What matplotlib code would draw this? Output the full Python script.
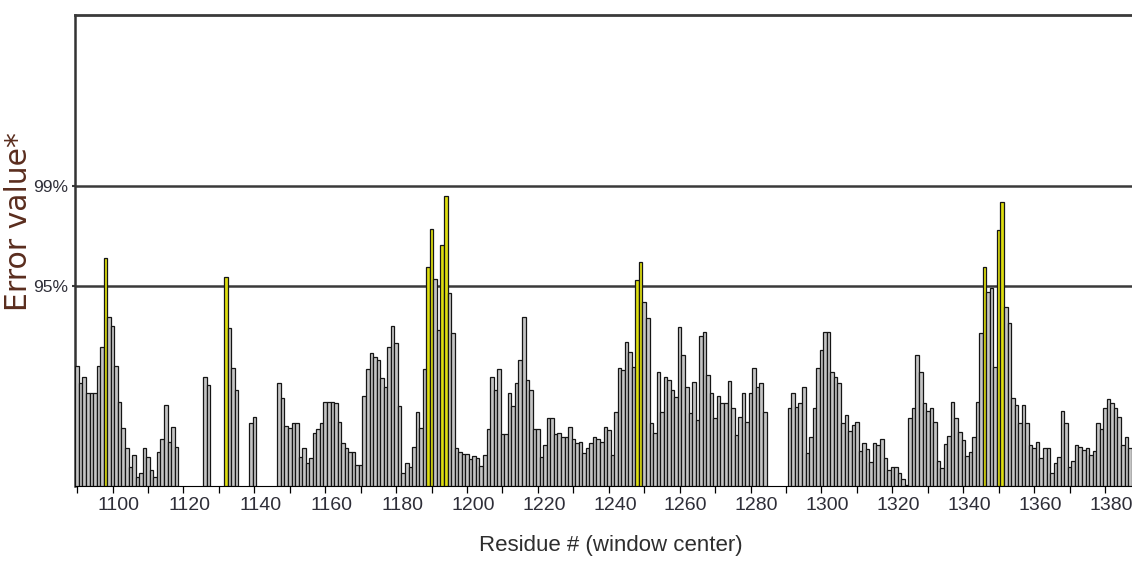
import numpy as np
import matplotlib
matplotlib.use("Agg")
import matplotlib.pyplot as plt
import matplotlib.transforms as mtransforms

# error value per residue (window center), None = no window
FIRST_RESIDUE = 1090
error_values = [
    120, 103, 109, 93, 93, 93, 120, 139, 228, 169,            # 1090
    160, 120, 84, 58, 38, 19, 31, 9, 13, 38,                  # 1100
    29, 16, 9, 34, 47, 81, 44, 59, 39, None,                  # 1110
    None, None, None, None, None, None, 109, 101, None, None,  # 1120
    None, None, 209, 158, 118, 96, None, None, None, 63,      # 1130
    69, None, None, None, None, None, None, 103, 88, 60,      # 1140
    58, 63, 63, 29, 38, 23, 28, 53, 57, 63,                   # 1150
    84, 84, 84, 83, 64, 43, 38, 34, 34, 21,                   # 1160
    21, 90, 117, 133, 129, 126, 108, 99, 139, 160,            # 1170
    143, 80, 13, 23, 19, 39, 74, 58, 117, 219,                # 1180
    257, 207, 156, 241, 290, 193, 153, 38, 34, 32,            # 1190
    32, 27, 30, 28, 20, 31, 57, 109, 96, 117,                 # 1200
    52, 52, 93, 80, 103, 126, 169, 106, 96, 57,               # 1210
    57, 29, 41, 68, 68, 52, 53, 49, 49, 59,                   # 1220
    47, 43, 44, 33, 38, 43, 49, 47, 44, 59,                   # 1230
    56, 31, 74, 118, 116, 144, 134, 119, 206, 224,            # 1240
    184, 168, 63, 53, 114, 74, 109, 106, 96, 89,              # 1250
    159, 131, 99, 73, 104, 66, 150, 154, 111, 93,             # 1260
    68, 90, 83, 83, 105, 78, 51, 69, 93, 64,                  # 1270
    93, 118, 99, 103, 74, None, None, None, None, None,       # 1280
    None, 78, 93, 79, 83, 99, 33, 49, 78, 118,                # 1290
    136, 154, 154, 114, 109, 103, 63, 71, 55, 61,             # 1300
    64, 35, 43, 37, 24, 43, 41, 47, 28, 16,                   # 1310
    19, 19, 13, 7, 1, 68, 78, 131, 114, 83,                   # 1320
    75, 78, 64, 25, 18, 42, 50, 84, 68, 54,                   # 1330
    46, 30, 34, 49, 84, 153, 219, 194, 198, 119,              # 1340
    256, 284, 179, 163, 88, 81, 63, 81, 63, 41,               # 1350
    38, 44, 28, 38, 38, 13, 23, 29, 75, 63,                   # 1360
    19, 25, 41, 39, 36, 38, 31, 35, 63, 57,                   # 1370
    78, 87, 83, 78, 69, 41, 49, 38,                           # 1380
]

highlight_residues = [1098, 1132, 1189, 1190, 1193, 1194, 1248, 1249, 1346, 1350, 1351]

threshold_labels = ["95%", "99%"]
threshold_values = [200, 300]

x_tick_labels = ["1100", "1120", "1140", "1160", "1180", "1200", "1220",
                 "1240", "1260", "1280", "1300", "1320", "1340", "1360", "1380"]

W, H = 1132, 569
plt.rcParams["font.family"] = ["Liberation Sans", "DejaVu Sans"]

residues = np.arange(FIRST_RESIDUE, FIRST_RESIDUE + len(error_values))
heights = np.array([np.nan if v is None else v for v in error_values], dtype=float)
present = ~np.isnan(heights)
colors = ["#dede10" if r in highlight_residues else "#c4c4c4" for r in residues[present]]

fig = plt.figure(figsize=(W / 100, H / 100), dpi=100)
ax = fig.add_axes([75 / W, (H - 486) / H, (W - 75) / W, (486 - 15) / H])

for t in threshold_values:
    ax.axhline(t, color="#3a3a3a", lw=1.8, zorder=2)

ax.bar(residues[present], heights[present], width=1.0, color=colors,
       edgecolor="#151515", linewidth=0.9, zorder=3)

ax.set_xlim(1089.4, 1387.6)
ax.set_ylim(0, 471)

major = [int(s) for s in x_tick_labels]
ax.set_xticks(major)
ax.set_xticklabels(x_tick_labels)
ax.set_xticks([m - 10 for m in major], minor=True)
ax.tick_params(axis="x", which="both", direction="out", length=5, width=0.9,
               color="black", pad=3, labelsize=14, labelcolor="#2e2e38")
# labels sit a little right of their ticks in the original
offset = mtransforms.ScaledTranslation(6 / 100, 0, fig.dpi_scale_trans)
for lbl in ax.get_xticklabels():
    lbl.set_transform(lbl.get_transform() + offset)

ax.set_yticks(threshold_values)
ax.set_yticklabels(threshold_labels)
ax.tick_params(axis="y", direction="out", length=2.5, width=1.5, color="#3a3a3a",
               pad=2.5, labelsize=12.5, labelcolor="#2e2e38")

ax.spines["right"].set_visible(False)
ax.spines["top"].set_linewidth(2.0)
ax.spines["top"].set_color("#3a3a3a")
ax.spines["left"].set_linewidth(1.8)
ax.spines["left"].set_color("#333333")
ax.spines["bottom"].set_linewidth(0.8)
ax.spines["bottom"].set_color("black")

fig.text(611 / W, 1 - 546 / H, "Residue # (window center)", ha="center", va="center",
         fontsize=16, color="#2e2e2e")
fig.text(19 / W, 1 - 222 / H, "Error value*", rotation=90, ha="center", va="center",
         fontsize=21.5, color="#5a2d1e", family=["DejaVu Sans"])

fig.savefig("out.png", dpi=100)
